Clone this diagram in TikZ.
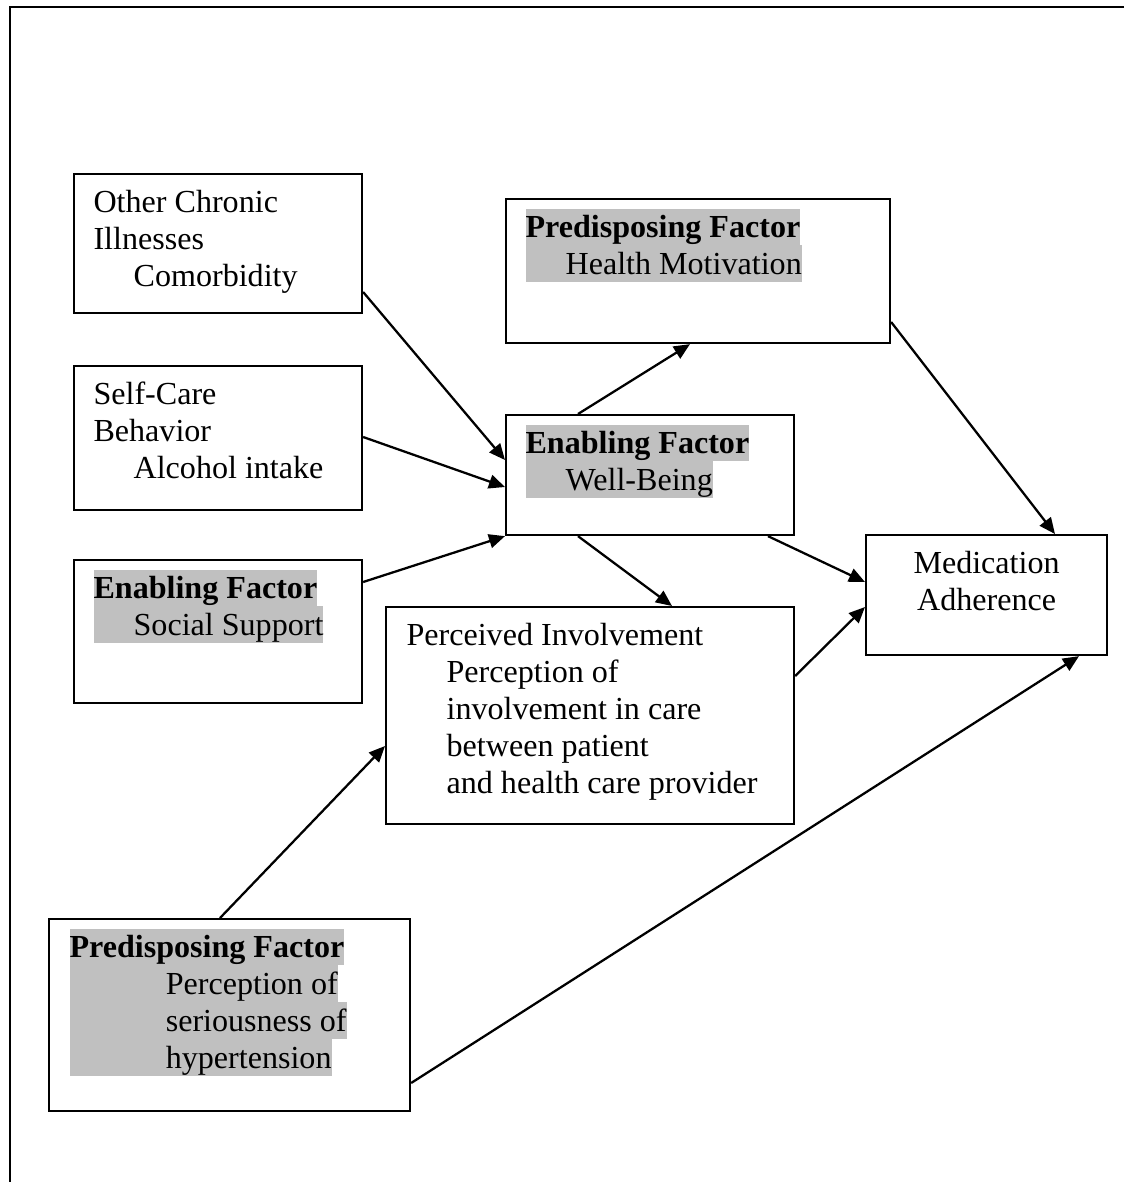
\documentclass[tikz,border=0pt]{standalone}
\usepackage{fontspec}
\setmainfont{Liberation Serif}
\usepackage{tikz}
\usepackage{color}
\usetikzlibrary{calc,arrows.meta}

\definecolor{hlgray}{RGB}{192,192,192}
\newcommand{\lstrut}{\rule[-3pt]{0pt}{13.8pt}}
\newcommand{\graymark}[1]{{\setlength{\fboxsep}{0pt}\colorbox{hlgray}{\lstrut#1}}}

\begin{document}
\begin{tikzpicture}[%
      x=0.374pt, y=-0.374pt,
      factorbox/.style 2 args={draw, line width=0.8pt, anchor=north west, inner sep=0pt, minimum width=#1*0.374pt, minimum height=#2*0.374pt},
      boxtext/.style={anchor=north west, inner sep=0pt, align=left, font=\fontsize{12pt}{13.8pt}\selectfont},
      link/.style={color=black, line width=0.85pt, -{Triangle[length=6pt,width=5.2pt]}},
      ]
      \useasboundingbox (0,0) rectangle (1124,1182);
      \draw [color=black, line width=1.1pt] (1124,7) -- (10,7) -- (10,1182);
      
      \node [factorbox={288}{139}] (comorb) at (73,173) {};
      \node [factorbox={288}{144}] (selfcare) at (73,365) {};
      \node [factorbox={288}{143}] (social) at (73,559) {};
      \node [factorbox={288}{120}] (wellbeing) at (505,414) {};
      \node [factorbox={384}{144}] (motivation) at (505,198) {};
      \node [factorbox={408}{217}] (involve) at (385,606) {};
      \node [factorbox={241}{120}] (adherence) at (865,534) {};
      \node [factorbox={361}{192}] (seriousness) at (48,918) {};
      
      \node [boxtext] (comorbtext) at ($(comorb.north west)+(20,10)$)
            {\lstrut Other Chronic\\ \lstrut Illnesses\\ \lstrut\hspace*{15pt}Comorbidity};
      \node [boxtext] (selfcaretext) at ($(selfcare.north west)+(20,10)$)
            {\lstrut Self-Care\\ \lstrut Behavior\\ \lstrut\hspace*{15pt}Alcohol intake};
      \node [boxtext] (socialtext) at ($(social.north west)+(20,10)$)
            {\graymark{\textbf{Enabling Factor}}\\ \graymark{\hspace*{15pt}Social Support}};
      \node [boxtext] (wellbeingtext) at ($(wellbeing.north west)+(20,10)$)
            {\graymark{\textbf{Enabling Factor}}\\ \graymark{\hspace*{15pt}Well-Being}};
      \node [boxtext] (motivationtext) at ($(motivation.north west)+(20,10)$)
            {\graymark{\textbf{Predisposing Factor}}\\ \graymark{\hspace*{15pt}Health Motivation}};
      \node [boxtext] (involvetext) at ($(involve.north west)+(21,10)$)
            {\lstrut Perceived Involvement\\ \lstrut\hspace*{15pt}Perception of\\
             \lstrut\hspace*{15pt}involvement in care\\ \lstrut\hspace*{15pt}between patient\\
             \lstrut\hspace*{15pt}and health care provider};
      \node [boxtext, anchor=north, align=center] (adherencetext) at ($(adherence.north)+(0,10)$)
            {\lstrut Medication\\ \lstrut Adherence};
      \node [boxtext] (seriousnesstext) at ($(seriousness.north west)+(21,10)$)
            {\graymark{\textbf{Predisposing Factor}}\\ \graymark{\hspace*{36pt}Perception of}\\
             \graymark{\hspace*{36pt}seriousness of}\\ \graymark{\hspace*{36pt}hypertension}};
      
      \draw [link] ($(comorb.north east)+(0,119)$) -- ($(wellbeing.north west)+(0,46)$);
      \draw [link] ($(selfcare.north east)+(0,72)$) -- ($(wellbeing.north west)+(0,73)$);
      \draw [link] ($(social.north east)+(0,23)$) -- (wellbeing.south west);
      \draw [link] ($(wellbeing.north west)+(73,0)$) -- ($(motivation.south west)+(185,0)$);
      \draw [link] ($(motivation.north east)+(0,124)$) -- ($(adherence.north west)+(190,0)$);
      \draw [link] ($(wellbeing.south west)+(73,0)$) -- ($(involve.north west)+(287,0)$);
      \draw [link] ($(wellbeing.south west)+(263,0)$) -- ($(adherence.north west)+(0,48)$);
      \draw [link] ($(involve.north east)+(0,70)$) -- ($(adherence.north west)+(0,73)$);
      \draw [link] ($(seriousness.north west)+(172,0)$) -- ($(involve.north west)+(0,140)$);
      \draw [link] ($(seriousness.north east)+(0,165)$) -- ($(adherence.south west)+(214,0)$);
      \end{tikzpicture}
\end{document}
